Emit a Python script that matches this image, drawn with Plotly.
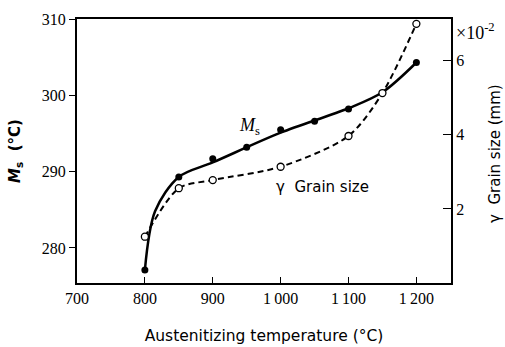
import plotly.graph_objects as go

# Measured points
temp_ms = [800, 850, 900, 950, 1000, 1050, 1100, 1200]
ms_vals = [277.1, 289.3, 291.7, 293.2, 295.5, 296.6, 298.2, 304.3]
temp_gs = [800, 850, 900, 1000, 1100, 1150, 1200]
gs_vals = [1.25, 2.56, 2.78, 3.14, 3.97, 5.13, 7.0]
# Smooth Ms curve as drawn in the figure
curve_ms_t = [800, 815, 850, 900, 1000, 1100, 1150, 1200]
curve_ms_v = [277.1, 284.8, 289.3, 291.2, 295.1, 298.3, 300.4, 304.3]

x_ticks = [700, 800, 900, 1000, 1100, 1200]
x_ticktext = ["700", "800", "900", "1\u2009000", "1\u2009100", "1\u2009200"]
y_ticks = [280, 290, 300, 310]
y2_ticks = [2, 4, 6]

serif = "Times New Roman, Liberation Serif, DejaVu Serif, serif"
sans = "DejaVu Sans"

fig = go.Figure()
fig.add_trace(go.Scatter(
    x=curve_ms_t, y=curve_ms_v, mode="lines", line_shape="spline",
    line=dict(color="black", width=2.5, smoothing=0.9),
    yaxis="y", showlegend=False, hoverinfo="skip"))
fig.add_trace(go.Scatter(
    x=temp_ms, y=ms_vals, mode="markers",
    marker=dict(symbol="circle", size=7, color="black"),
    yaxis="y", showlegend=False))
fig.add_trace(go.Scatter(
    x=temp_gs, y=gs_vals, mode="lines+markers", line_shape="spline",
    line=dict(color="black", width=2, dash="6px,4px", smoothing=0.8),
    marker=dict(symbol="circle", size=7, color="white", line=dict(width=1.3, color="black")),
    yaxis="y2", showlegend=False))

W, H = 505, 347
L, R, T, B = 77, 54, 19, 64
tf = dict(family=serif, size=16, color="black")

fig.update_layout(
    width=W, height=H,
    margin=dict(l=L, r=R, t=T, b=B),
    paper_bgcolor="white", plot_bgcolor="white",
    font=dict(family=serif, size=16, color="black"),
    xaxis=dict(range=[700, 1251], tickvals=x_ticks, ticktext=x_ticktext, tickfont=tf,
               ticks="inside", ticklen=6, tickwidth=1.2, tickcolor="black",
               showline=True, linecolor="black", linewidth=2, mirror=True,
               showgrid=False, zeroline=False, automargin=False,
               title=dict(text="Austenitizing temperature (\u00b0C)",
                          font=dict(family=sans, size=15.5, color="black"), standoff=24)),
    yaxis=dict(range=[275.4, 310], tickvals=y_ticks, tickfont=tf,
               ticks="outside", ticklen=6, tickwidth=1.2, tickcolor="black",
               showline=True, linecolor="black", linewidth=2, automargin=False,
               showgrid=False, zeroline=False),
    yaxis2=dict(range=[0, 7.13], tickvals=y2_ticks, overlaying="y", side="right", tickfont=tf,
                ticks="inside", ticklen=8, tickwidth=1.2, tickcolor="black",
                showline=True, linecolor="black", linewidth=2, automargin=False,
                showgrid=False, zeroline=False),
)

fig.add_annotation(text="<b><i>M</i><sub>s</sub>  (\u00b0C)</b>", xref="paper", yref="paper",
                   x=0, y=0.5, xanchor="center", yanchor="middle", xshift=-62,
                   textangle=-90, showarrow=False, font=dict(family=sans, size=15))
fig.add_annotation(text="\u03b3  Grain size (mm)", xref="paper", yref="paper",
                   x=1, y=0.5, xanchor="center", yanchor="middle", xshift=44, yshift=-3,
                   textangle=-90, showarrow=False, font=dict(family=sans, size=15))
fig.add_annotation(text="\u00d710<sup>-2</sup>", xref="paper", yref="paper",
                   x=1, y=1, xanchor="left", yanchor="middle", xshift=3, yshift=-12,
                   showarrow=False, font=dict(family=serif, size=18))
fig.add_annotation(text="<i>M</i><sub>s</sub>", x=954, y=295.9, xref="x", yref="y",
                   showarrow=False, font=dict(family=serif, size=18))
fig.add_annotation(text="\u03b3  Grain size", x=1062, y=2.6, xref="x", yref="y2",
                   showarrow=False, font=dict(family=sans, size=15))

fig.write_html("out.html")
